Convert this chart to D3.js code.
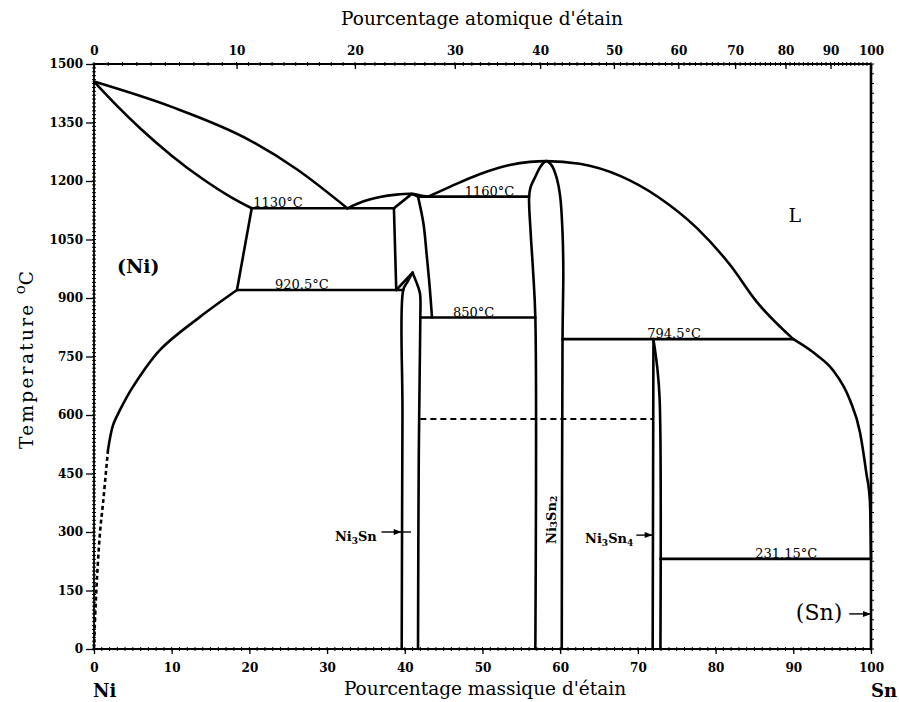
<!DOCTYPE html>
<html><head><meta charset="utf-8">
<script src="https://cdn.jsdelivr.net/npm/d3@7"></script>
<style>body{margin:0;background:#fff}svg{display:block}</style>
</head><body>
<svg id="chart" width="899" height="702"></svg>
<script>
// Axis ticks
const tempTicks = d3.range(0, 1501, 150);      // °C
const massTicks = d3.range(0, 101, 10);        // wt % Sn
const atomTicks = d3.range(0, 101, 10);        // at % Sn

// Phase boundaries, each point is [wt % Sn, °C]
const liquidusNi = [[0,1455],[10,1390],[20,1305],[26.1,1230],[32.6,1130]];
const solidusNi = [[0,1455],[3,1392],[6,1334],[10,1265],[14,1205],[17.5,1160],[20.3,1130]];
const solvusNiHigh = [[20.3,1130],[18.4,920.5]];
const solvusNi = [[18.4,920.5],[13.6,851],[8.5,767],[5.0,672],[3.35,613],[2.45,574],[1.8,510]];
const solvusNiDashed = [[1.8,510],[1.2,382],[0.77,298],[0.35,169],[0.1,60],[0,0]];
const liquidusBeta = [[32.6,1130],[34.7,1148],[36.8,1159],[38.9,1165],[40.9,1167],[42.0,1163],[43.0,1160]];
const betaTop = [[38.6,1130],[40.9,1167],[41.7,1160]];
const betaLeft = [[38.6,1130],[38.9,920.5]];
const betaRight = [[41.7,1160],[42.4,1091],[42.8,1014],[43.2,929],[43.5,850]];
const betaLowLeft = [[38.9,920.5],[41.0,965]];
const ni3snLeft = [[41.0,965],[40.3,940],[39.8,920.5],[39.7,600],[39.6,0]];
const ni3snRight = [[41.0,965],[41.5,940],[41.95,912],[42.0,850],[41.8,500],[41.7,0]];
const liquidusSn = [[43.0,1160],[45.8,1185],[49.7,1218],[53.5,1241],[56.1,1249],[58.2,1251],[62.5,1244],[67.7,1213],[72.6,1159],[77.6,1079],[81.9,984],[85.3,890],[90.0,794.5]];
const liquidusSnEnd = [[90.0,794.5],[93.0,754],[95.1,715],[97.3,638],[98.6,554],[99.4,451],[99.85,382],[99.95,305],[100,231.15]];
const ni3sn2Phase = [[56.8,0],[56.8,850],[56.5,972],[56.2,1067],[56.0,1160],[56.2,1185],[56.8,1211],[57.5,1238],[58.2,1251],[58.9,1240],[59.5,1211],[60.0,1160],[60.3,1067],[60.4,972],[60.3,794.5],[60.2,0]];
const ni3sn4Left = [[72.0,794.5],[71.9,0]];
const ni3sn4Right = [[72.0,794.5],[72.5,720],[72.8,640],[72.9,0]];

// Invariant isotherms
const isoTemps = [1130, 1160, 920.5, 850, 794.5, 231.15];
const isoStart = [20.3, 41.7, 18.4, 42.0, 60.3, 72.9];
const isoEnd = [38.6, 56.0, 39.8, 56.8, 90.0, 100];
const isoLabels = ["1130°C", "1160°C", "920.5°C", "850°C", "794.5°C", "231,15°C"];

// Ni3Sn2 low-temperature transformation (dashed)
const dashedTemp = 590;
const dashedSpan = [42.0, 71.9];

// Atomic masses used to place the atomic-% scale
const massNi = 58.69, massSn = 118.71;

const svg = d3.select("#chart");
const x = d3.scaleLinear().domain([0, 100]).range([94, 871]);
const y = d3.scaleLinear().domain([0, 1500]).range([649, 64]);
const atToWt = a => 100 * a * massSn / (a * massSn + (100 - a) * massNi);
const xAt = d3.scaleLinear().domain(atomTicks).range(atomTicks.map(a => x(atToWt(a))));

const serif = "'DejaVu Serif', 'Liberation Serif', serif";
const ink = "#000";

// ---- frame and ticks ----
const g = svg.append("g");
const frame = g.append("g").attr("stroke", ink).attr("fill", "none");
frame.append("line").attr("x1", x(0)).attr("x2", x(100)).attr("y1", y(0)).attr("y2", y(0)).attr("stroke-width", 1.8);
frame.append("line").attr("x1", x(0)).attr("x2", x(100)).attr("y1", y(1500)).attr("y2", y(1500)).attr("stroke-width", 1.8);
frame.append("line").attr("x1", x(0)).attr("x2", x(0)).attr("y1", y(0)).attr("y2", y(1500)).attr("stroke-width", 1.8);
frame.append("line").attr("x1", x(100)).attr("x2", x(100)).attr("y1", y(0)).attr("y2", y(1500)).attr("stroke-width", 2.6);

// minor ticks
const minor = g.append("g").attr("stroke", ink).attr("stroke-width", 1);
minor.selectAll(".mb").data(d3.range(0, 101, 1)).join("line")
  .attr("x1", d => x(d)).attr("x2", d => x(d)).attr("y1", y(0) - 2).attr("y2", y(0) + 2);
minor.selectAll(".mt").data(d3.range(0, 101, 1)).join("line")
  .attr("x1", d => xAt(d)).attr("x2", d => xAt(d)).attr("y1", y(1500) - 2).attr("y2", y(1500) + 2);
minor.selectAll(".ml").data(d3.range(0, 1501, 10)).join("line")
  .attr("y1", d => y(d)).attr("y2", d => y(d)).attr("x1", x(0) - 2).attr("x2", x(0) + 2);
minor.selectAll(".mr").data(d3.range(0, 1501, 25)).join("line")
  .attr("y1", d => y(d)).attr("y2", d => y(d)).attr("x1", x(100)).attr("x2", x(100) + 3);

function styleAxis(sel) {
  sel.select(".domain").remove();
  sel.selectAll("text").attr("font-family", serif).attr("font-weight", "bold")
    .attr("font-size", 12).attr("fill", ink);
  sel.selectAll("line").attr("stroke", ink).attr("stroke-width", 1.3);
}

g.append("g").attr("transform", `translate(${x(0)},0)`)
  .call(d3.axisLeft(y).tickValues(tempTicks).tickSize(8).tickPadding(3).tickFormat(d3.format("d")))
  .call(styleAxis);
g.append("g").attr("transform", `translate(0,${y(0)})`)
  .call(d3.axisBottom(x).tickValues(massTicks).tickSize(5).tickPadding(9).tickFormat(d3.format("d")))
  .call(styleAxis);
g.append("g").attr("transform", `translate(0,${y(1500)})`)
  .call(d3.axisTop(xAt).tickValues(atomTicks).tickSize(-5).tickPadding(9).tickFormat(d3.format("d")))
  .call(styleAxis);

// ---- boundaries ----
const smooth = d3.line().x(d => x(d[0])).y(d => y(d[1])).curve(d3.curveCatmullRom.alpha(0.5));
const mono = d3.line().x(d => x(d[0])).y(d => y(d[1])).curve(d3.curveMonotoneX);
const straight = d3.line().x(d => x(d[0])).y(d => y(d[1]));
const lines = g.append("g").attr("fill", "none").attr("stroke", ink)
  .attr("stroke-width", 2.6).attr("stroke-linejoin", "round").attr("stroke-linecap", "round");

[liquidusNi, solidusNi, liquidusSn, liquidusSnEnd]
  .forEach(p => lines.append("path").attr("d", mono(p)));
[solvusNi, liquidusBeta, betaRight, ni3snLeft, ni3snRight, ni3sn2Phase, ni3sn4Right]
  .forEach(p => lines.append("path").attr("d", smooth(p)));
[solvusNiHigh, betaTop, betaLeft, betaLowLeft, ni3sn4Left]
  .forEach(p => lines.append("path").attr("d", straight(p)));
lines.append("path").attr("d", smooth(solvusNiDashed)).attr("stroke-dasharray", "4,3").attr("stroke-linecap", "butt");

lines.selectAll(".iso").data(isoTemps).join("line")
  .attr("x1", (d, i) => x(isoStart[i])).attr("x2", (d, i) => x(isoEnd[i]))
  .attr("y1", d => y(d)).attr("y2", d => y(d));

lines.append("line").attr("x1", x(dashedSpan[0])).attr("x2", x(dashedSpan[1]))
  .attr("y1", y(dashedTemp)).attr("y2", y(dashedTemp))
  .attr("stroke-width", 2).attr("stroke-dasharray", "6,4").attr("stroke-linecap", "butt");

// ---- isotherm labels ----
const isoLabelAt = [20.5, 47.7, 23.3, 46.2, 71.2, 85.1];
g.append("g").selectAll("text").data(isoLabels).join("text")
  .attr("x", (d, i) => x(isoLabelAt[i])).attr("y", (d, i) => y(isoTemps[i]) - 1)
  .attr("font-family", serif).attr("font-size", 13).attr("fill", ink)
  .text(d => d);

// ---- phase labels ----
const txt = (s, px, py, size, weight, anchor) => g.append("text")
  .attr("x", px).attr("y", py).attr("font-family", serif).attr("font-size", size)
  .attr("font-weight", weight).attr("text-anchor", anchor).attr("fill", ink).text(s);

txt("(Ni)", x(5.7), y(965), 19, "bold", "middle");
txt("L", x(90.2), y(1095), 19, "normal", "middle");
txt("(Sn)", x(96.3), y(74), 22, "normal", "end");

function compound(sub, px, py, anchor, rotate) {
  const t = g.append("text").attr("font-family", serif).attr("font-size", 13)
    .attr("font-weight", "bold").attr("fill", ink).attr("text-anchor", anchor);
  if (rotate) t.attr("transform", `translate(${px},${py}) rotate(-90)`).attr("dominant-baseline", "central");
  else t.attr("x", px).attr("y", py);
  t.append("tspan").text("Ni");
  t.append("tspan").attr("font-size", 9).attr("dy", 3).text("3");
  t.append("tspan").attr("dy", -3).text("Sn");
  if (sub) t.append("tspan").attr("font-size", 9).attr("dy", 3).text(sub);
  return t;
}
compound(null, x(36.4), y(277), "end", false);
compound("4", x(69.4), y(272), "end", false);
compound("2", x(58.8), y(331), "middle", true);

// arrows to the narrow single-phase fields
function arrow(t, from, to) {
  const yy = y(t);
  g.append("line").attr("x1", x(from)).attr("x2", x(to)).attr("y1", yy).attr("y2", yy)
    .attr("stroke", ink).attr("stroke-width", 1.4);
  g.append("path").attr("fill", ink)
    .attr("d", `M${x(to)},${yy} l-8,-3 l0,6 z`);
}
arrow(300, 37.0, 39.6);
g.append("line").attr("x1", x(39.6)).attr("x2", x(40.8)).attr("y1", y(300)).attr("y2", y(300))
  .attr("stroke", ink).attr("stroke-width", 1.4);
arrow(292, 69.8, 71.9);
arrow(90, 97.2, 100);

// ---- axis titles ----
txt("Pourcentage atomique d'étain", 482, 25, 18.5, "normal", "middle");
txt("Pourcentage massique d'étain", 485, 695, 18.5, "normal", "middle");
txt("Ni", 93, 697, 18, "bold", "start");
txt("Sn", 897, 697, 18, "bold", "end");

const yt = g.append("text").attr("transform", "translate(33,360) rotate(-90)")
  .attr("font-family", serif).attr("font-size", 18.5).attr("fill", ink).attr("text-anchor", "middle");
yt.append("tspan").attr("letter-spacing", 2.3).text("Temperature ");
yt.append("tspan").attr("font-size", 15).attr("dy", -8).text("o");
yt.append("tspan").attr("dy", 8).text("C");
</script>
</body></html>
